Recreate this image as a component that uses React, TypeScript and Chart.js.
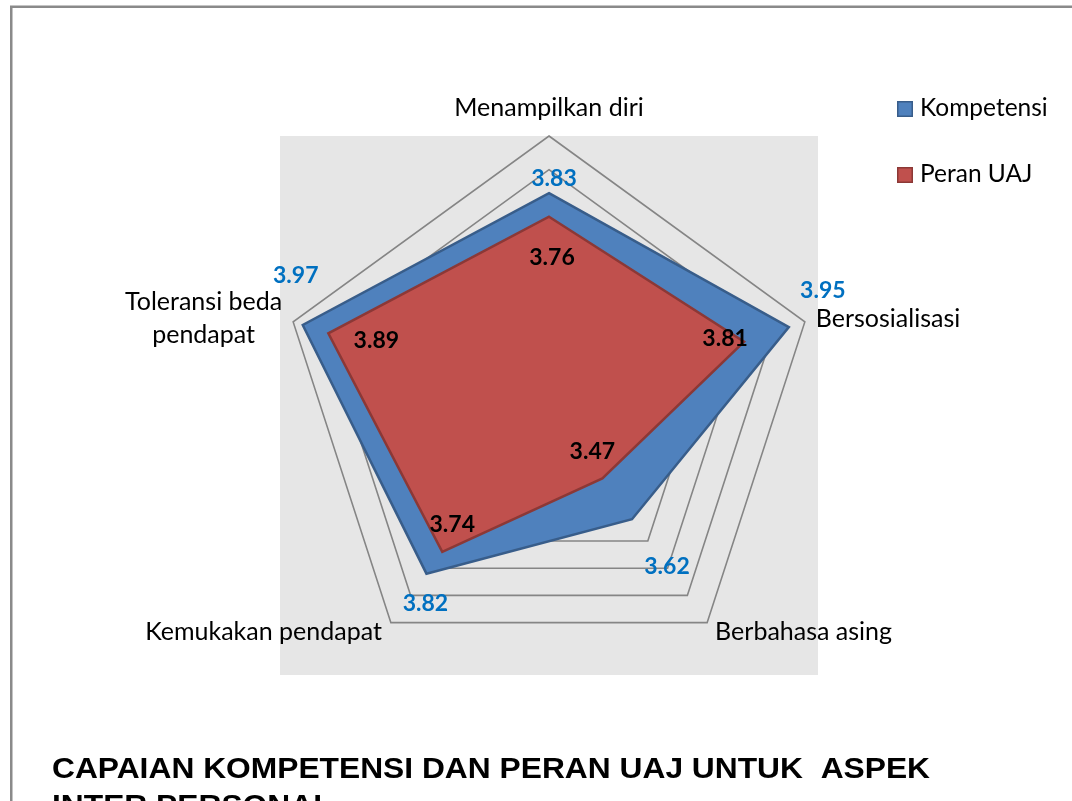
import React, { useEffect, useRef } from 'react';
import { Chart, registerables } from 'chart.js';

Chart.register(...registerables);

// ---- data ----
const categories: string[][] = [
  ['Menampilkan diri'],
  ['Bersosialisasi'],
  ['Berbahasa asing'],
  ['Kemukakan pendapat'],
  ['Toleransi beda', 'pendapat'],
];
const seriesNames = ['Kompetensi', 'Peran UAJ'];
const kompetensi = [3.83, 3.95, 3.62, 3.82, 3.97];
const peranUAJ = [3.76, 3.81, 3.47, 3.74, 3.89];
const scaleMin = 3.2;
const scaleMax = 4.0;
const scaleStep = 0.1;
const titleLines = ['CAPAIAN KOMPETENSI DAN PERAN UAJ UNTUK  ASPEK', 'INTER PERSONAL'];

// ---- label placement (nudges relative to the scale's points) ----
const kompLabelNudge: number[][] = [[5, -15], [34, -37], [35, 46], [-1, 29], [-7, -50]];
const peranLabelNudge: number[][] = [[3, 40], [-19, -4], [-10, -28], [10, -28], [48, 6]];
// dx, baseline dy (first line), align
const pointLabelNudge: [number, number, string][] = [
  [0, -20, 'center'],
  [11, 5.5, 'left'],
  [8, 17, 'left'],
  [-9, 17, 'right'],
  [-11, -12, 'box'],
];

const COLORS = {
  blueFill: '#4F81BD',
  blueBorder: '#385D8A',
  redFill: '#C0504D',
  redBorder: '#8C3836',
  blueText: '#0070C0',
  plotBg: '#E6E6E6',
  grid: '#858585',
};

const FONT = 'Lato, "Open Sans", sans-serif';

const decorPlugin = {
  id: 'decor',
  beforeDraw(chart: any) {
    const { ctx, chartArea: a } = chart;
    ctx.save();
    ctx.fillStyle = '#ffffff';
    ctx.fillRect(0, 0, chart.width, chart.height);
    ctx.fillStyle = COLORS.plotBg;
    ctx.fillRect(a.left, a.top, a.right - a.left, a.bottom - a.top);
    ctx.strokeStyle = '#8a8a8a';
    ctx.lineWidth = 2.5;
    ctx.strokeRect(11.25, 6.75, 1300, 1000);
    ctx.restore();
  },
  afterDraw(chart: any) {
    const { ctx } = chart;
    const scale = chart.scales.r;
    ctx.save();

    // point labels
    ctx.fillStyle = '#000';
    ctx.font = `25px ${FONT}`;
    ctx.textBaseline = 'alphabetic';
    categories.forEach((lines, i) => {
      const v = scale.getPointPosition(i, scale.drawingArea);
      const [dx, dy, align] = pointLabelNudge[i];
      if (align === 'box') {
        const w = Math.max(...lines.map((l) => ctx.measureText(l).width));
        const cx = v.x + dx - w / 2;
        ctx.textAlign = 'center';
        lines.forEach((l, k) => ctx.fillText(l, cx, v.y + dy + k * 33));
      } else {
        ctx.textAlign = align as CanvasTextAlign;
        lines.forEach((l, k) => ctx.fillText(l, v.x + dx, v.y + dy + k * 33));
      }
    });

    // data labels
    const size = 23;
    ctx.font = `bold ${size}px ${FONT}`;
    ctx.textAlign = 'center';
    const drawLabels = (dsIndex: number, values: number[], nudge: number[][], color: string) => {
      const meta = chart.getDatasetMeta(dsIndex);
      ctx.fillStyle = color;
      meta.data.forEach((pt: any, j: number) => {
        ctx.fillText(values[j].toFixed(2), pt.x + nudge[j][0], pt.y + nudge[j][1] + size * 0.36);
      });
    };
    drawLabels(0, kompetensi, kompLabelNudge, COLORS.blueText);
    drawLabels(1, peranUAJ, peranLabelNudge, '#000');

    // legend
    const legendItems = [
      { name: seriesNames[0], fill: COLORS.blueFill, border: COLORS.blueBorder, y: 101 },
      { name: seriesNames[1], fill: COLORS.redFill, border: COLORS.redBorder, y: 167 },
    ];
    ctx.font = `24.5px ${FONT}`;
    ctx.textAlign = 'left';
    legendItems.forEach((it) => {
      ctx.fillStyle = it.fill;
      ctx.fillRect(897, it.y, 16, 16);
      ctx.strokeStyle = it.border;
      ctx.lineWidth = 1.5;
      ctx.strokeRect(897.75, it.y + 0.75, 14.5, 14.5);
      ctx.fillStyle = '#000';
      ctx.fillText(it.name, 920, it.y + 15);
    });

    // title
    ctx.font = 'bold 29px "Liberation Sans", Arial, sans-serif';
    ctx.fillStyle = '#000';
    titleLines.forEach((l, k) => {
      ctx.save();
      ctx.translate(52, 778 + k * 37);
      ctx.scale(1.095, 1);
      ctx.fillText(l, 0, 0);
      ctx.restore();
    });

    ctx.restore();
  },
};

export default function App() {
  const ref = useRef<HTMLCanvasElement>(null);
  useEffect(() => {
    const chart = new Chart(ref.current as HTMLCanvasElement, {
      type: 'radar',
      data: {
        labels: categories,
        datasets: [
          {
            label: seriesNames[0],
            data: kompetensi,
            backgroundColor: COLORS.blueFill,
            borderColor: COLORS.blueBorder,
            borderWidth: 2.5,
            fill: true,
            pointRadius: 0,
            order: 2,
          },
          {
            label: seriesNames[1],
            data: peranUAJ,
            backgroundColor: COLORS.redFill,
            borderColor: COLORS.redBorder,
            borderWidth: 2.5,
            fill: true,
            pointRadius: 0,
            order: 1,
          },
        ],
      },
      options: {
        responsive: false,
        animation: false,
        devicePixelRatio: 1,
        layout: { padding: { left: 280, top: 136, right: 254, bottom: 126 } },
        elements: { line: { tension: 0, borderJoinStyle: 'miter' } },
        plugins: {
          legend: { display: false },
          title: { display: false },
          tooltip: { enabled: false },
        },
        scales: {
          r: {
            min: scaleMin,
            max: scaleMax,
            beginAtZero: false,
            ticks: { display: false, stepSize: scaleStep },
            grid: { color: COLORS.grid, lineWidth: 1.6 },
            angleLines: { display: false },
            pointLabels: { display: false },
          },
        },
      },
      plugins: [decorPlugin],
    } as any);
    return () => chart.destroy();
  }, []);
  return (
    <div
      style={{
        position: 'absolute',
        left: 0,
        top: 0,
        width: 1072,
        height: 801,
        overflow: 'hidden',
        background: '#fff',
      }}
    >
      <canvas ref={ref} width={1072} height={801} style={{ display: 'block', width: 1072, height: 801 }} />
    </div>
  );
}
